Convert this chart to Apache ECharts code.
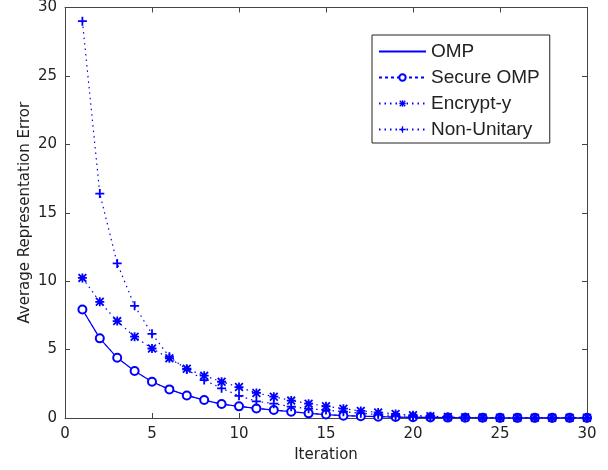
<!DOCTYPE html>
<html>
<head>
<meta charset="utf-8">
<script src="https://cdn.jsdelivr.net/npm/echarts@6/dist/echarts.min.js"></script>
<style>
html,body{margin:0;padding:0;background:#fff;}
#main{width:608px;height:470px;}
</style>
</head>
<body>
<div id="main"></div>
<script>
var iterations = [];
for (var i = 1; i <= 30; i++) { iterations.push(i); }

var ompData = [7.93, 5.82, 4.40, 3.43, 2.65, 2.09, 1.65, 1.31, 1.02, 0.85,
	0.70, 0.58, 0.46, 0.34, 0.25, 0.17, 0.13, 0.10, 0.07, 0.05,
	0.04, 0.03, 0.02, 0.02, 0.01, 0.01, 0.01, 0.01, 0.01, 0.01];
var secureData = ompData.slice();
var encryptData = [10.24, 8.49, 7.08, 5.94, 5.08, 4.36, 3.60, 3.09, 2.65, 2.26,
	1.83, 1.56, 1.27, 1.05, 0.86, 0.68, 0.52, 0.41, 0.30, 0.20,
	0.13, 0.08, 0.05, 0.03, 0.02, 0.01, 0.01, 0.01, 0.01, 0.01];
var nonUnitaryData = [29.0, 16.4, 11.3, 8.2, 6.15, 4.47, 3.55, 2.77, 2.17, 1.62,
	1.22, 1.05, 0.83, 0.68, 0.58, 0.46, 0.35, 0.25, 0.17, 0.11,
	0.07, 0.04, 0.03, 0.02, 0.01, 0.01, 0.01, 0.01, 0.01, 0.01];
var seriesNames = ['OMP', 'Secure OMP', 'Encrypt-y', 'Non-Unitary'];

function pairs(vals) {
	return vals.map(function (v, k) { return [iterations[k], v]; });
}

var blue = '#0000ff';
var plusPath = 'path://M4,0H6V10H4Z M0,4H10V6H0Z';
var starPath = 'path://M4,0H6V10H4Z M0,4H10V6H0Z M0,1.4L1.4,0L10,8.6L8.6,10Z M8.6,0L10,1.4L1.4,10L0,8.6Z';
var fontName = 'DejaVu Sans';
var axisColor = '#444';

// mirrored axes (top / right) like a boxed plot
function boxAxis(pos) {
	return {
		type: 'value', min: 0, max: 30, interval: 5, position: pos,
		axisLine: {show: true, onZero: false, lineStyle: {color: axisColor, width: 1}},
		axisTick: {inside: true, length: 5, lineStyle: {color: axisColor}},
		axisLabel: {show: false},
		splitLine: {show: false}
	};
}

var option = {
	backgroundColor: '#fff',
	animation: false,
	grid: {left: 65, right: 21, top: 7, bottom: 52, show: false},
	legend: {
		orient: 'vertical',
		left: 372,
		top: 35,
		padding: [7, 10, 4, 6],
		itemGap: 7,
		itemWidth: 47,
		itemHeight: 8,
		borderColor: '#222',
		borderWidth: 1,
		backgroundColor: '#fff',
		textStyle: {fontFamily: 'Liberation Sans', fontSize: 19, lineHeight: 18, color: '#222'},
		data: [
			{name: 'OMP', itemStyle: {opacity: 0}},
			{name: 'Secure OMP'},
			{name: 'Encrypt-y'},
			{name: 'Non-Unitary'}
		]
	},
	xAxis: [{
		type: 'value', min: 0, max: 30, interval: 5,
		name: 'Iteration', nameLocation: 'middle', nameGap: 30,
		nameTextStyle: {fontFamily: fontName, fontSize: 15, color: '#222'},
		axisLine: {show: true, onZero: false, lineStyle: {color: axisColor, width: 1}},
		axisTick: {inside: true, length: 5, lineStyle: {color: axisColor}},
		axisLabel: {fontFamily: fontName, fontSize: 15, color: '#222', margin: 9},
		splitLine: {show: false}
	}, boxAxis('top')],
	yAxis: [{
		type: 'value', min: 0, max: 30, interval: 5,
		name: 'Average Representation Error', nameLocation: 'middle', nameGap: 32,
		nameMoveOverlap: false,
		nameTextStyle: {fontFamily: fontName, fontSize: 15, color: '#222'},
		axisLine: {show: true, onZero: false, lineStyle: {color: axisColor, width: 1}},
		axisTick: {inside: true, length: 5, lineStyle: {color: axisColor}},
		axisLabel: {fontFamily: fontName, fontSize: 15, color: '#222', margin: 8},
		splitLine: {show: false}
	}, boxAxis('right')],
	series: [{
		name: seriesNames[0], type: 'line', data: pairs(ompData),
		symbol: 'none', showSymbol: false,
		lineStyle: {color: blue, width: 1.2},
		itemStyle: {color: blue}, z: 3
	}, {
		name: seriesNames[1], type: 'line', data: pairs(secureData),
		symbol: 'emptyCircle', symbolSize: 8,
		lineStyle: {color: blue, width: 1, type: [3, 3]},
		itemStyle: {color: blue, borderColor: blue, borderWidth: 1.2}, z: 4
	}, {
		name: seriesNames[2], type: 'line', data: pairs(encryptData),
		symbol: starPath, symbolSize: 9,
		lineStyle: {color: blue, width: 1.2, type: [1.5, 4]},
		itemStyle: {color: blue}, z: 5
	}, {
		name: seriesNames[3], type: 'line', data: pairs(nonUnitaryData),
		symbol: plusPath, symbolSize: 9,
		lineStyle: {color: blue, width: 1.2, type: [1.5, 4]},
		itemStyle: {color: blue}, z: 6
	}, {
		// empty series so the mirrored axes get drawn
		name: 'box', type: 'line', xAxisIndex: 1, yAxisIndex: 1, data: [], silent: true
	}]
};

var chart = echarts.init(document.getElementById('main'));
chart.setOption(option);
</script>
</body>
</html>
